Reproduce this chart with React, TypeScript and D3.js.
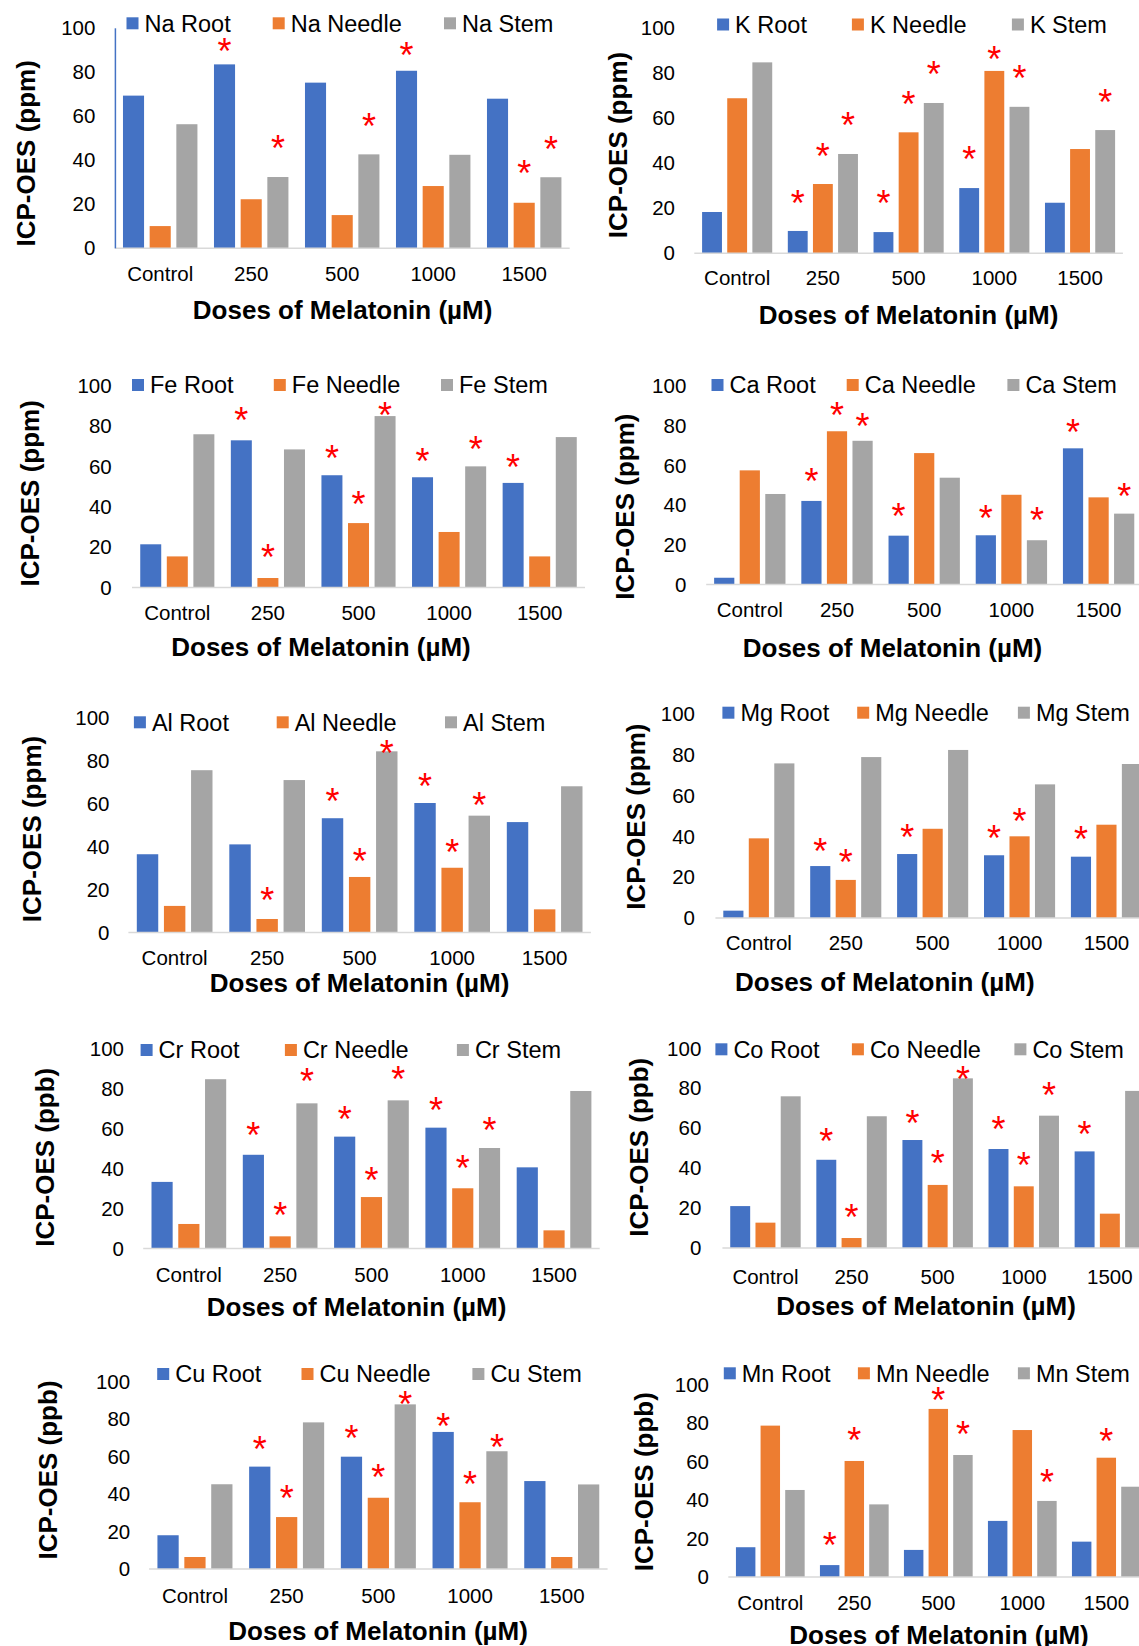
import React from "react";
import * as d3 from "d3";

const categories = ["Control", "250", "500", "1000", "1500"];
const parts = ["Root", "Needle", "Stem"];
const colors = ["#4472C4", "#ED7D31", "#A5A5A5"];
const yTicks = [0, 20, 40, 60, 80, 100];
const xTitle = "Doses of Melatonin (µM)";

// values: [Root, Needle, Stem] per dose
const naRoot = [69.4, 83.6, 75.3, 80.7, 68.0];
const naNeedle = [10.1, 22.3, 15.1, 28.3, 20.7];
const naStem = [56.4, 32.4, 42.7, 42.5, 32.3];
const kRoot = [18.3, 9.9, 9.4, 28.9, 22.4];
const kNeedle = [68.7, 30.7, 53.6, 80.8, 46.2];
const kStem = [84.6, 44.0, 66.6, 64.9, 54.6];
const feRoot = [21.4, 72.9, 55.6, 54.6, 51.8];
const feNeedle = [15.4, 4.7, 31.9, 27.5, 15.4];
const feStem = [75.9, 68.4, 84.9, 60.0, 74.5];
const caRoot = [3.4, 42.1, 24.6, 24.8, 68.6];
const caNeedle = [57.5, 77.2, 66.2, 45.2, 43.9];
const caStem = [45.6, 72.4, 53.8, 22.3, 35.7];
const alRoot = [36.5, 41.1, 53.3, 60.4, 51.5];
const alNeedle = [12.4, 6.3, 25.9, 30.2, 10.8];
const alStem = [75.7, 71.1, 84.5, 54.5, 68.2];
const mgRoot = [3.6, 25.5, 31.4, 30.8, 30.1];
const mgNeedle = [39.1, 18.7, 43.8, 40.1, 45.8];
const mgStem = [75.9, 79.0, 82.5, 65.6, 75.6];
const crRoot = [33.4, 47.0, 56.1, 60.6, 40.7];
const crNeedle = [12.3, 6.1, 25.8, 30.2, 9.1];
const crStem = [84.9, 72.8, 74.3, 50.4, 79.0];
const coRoot = [21.0, 44.2, 54.1, 49.6, 48.4];
const coNeedle = [12.7, 5.0, 31.6, 30.9, 17.2];
const coStem = [76.0, 66.0, 85.0, 66.3, 78.7];
const cuRoot = [18.0, 54.6, 59.9, 73.1, 46.9];
const cuNeedle = [6.4, 27.7, 38.0, 35.6, 6.4];
const cuStem = [45.2, 78.2, 87.8, 62.8, 45.1];
const mnRoot = [15.5, 6.2, 14.1, 29.2, 18.4];
const mnNeedle = [78.8, 60.4, 87.5, 76.5, 62.1];
const mnStem = [45.3, 37.8, 63.5, 39.6, 47.0];

// significance marks: [dose index, part index, height on value axis]
const naStars = [[1, 0, 93.2], [1, 2, 49.0], [2, 2, 59.2], [3, 0, 91.6], [4, 1, 37.6], [4, 2, 48.5]];
const kStars = [[1, 0, 25.8], [1, 1, 46.5], [1, 2, 60.5], [2, 0, 25.8], [2, 1, 69.8], [2, 2, 83.1], [3, 0, 45.3], [3, 1, 89.6], [3, 2, 81.2], [4, 2, 70.6]];
const feStars = [[1, 0, 87.1], [1, 1, 19.1], [2, 0, 67.8], [2, 1, 45.5], [2, 2, 89.1], [3, 0, 66.5], [3, 2, 72.6], [4, 0, 63.5]];
const caStars = [[1, 0, 56.0], [1, 1, 89.3], [1, 2, 83.7], [2, 0, 38.4], [3, 0, 37.5], [3, 2, 36.4], [4, 0, 80.9], [4, 2, 48.5]];
const alStars = [[1, 1, 19.0], [2, 0, 65.2], [2, 1, 37.2], [2, 2, 87.5], [3, 0, 71.9], [3, 1, 41.3], [3, 2, 63.1]];
const mgStars = [[1, 0, 36.7], [1, 1, 31.4], [2, 0, 43.5], [3, 0, 43.2], [3, 1, 51.4], [4, 0, 42.8]];
const crStars = [[1, 0, 61.1], [1, 1, 21.0], [1, 2, 87.9], [2, 0, 69.1], [2, 1, 38.2], [2, 2, 89.0], [3, 0, 73.6], [3, 1, 44.4], [3, 2, 63.6]];
const coStars = [[1, 0, 57.5], [1, 1, 19.4], [2, 0, 66.6], [2, 1, 46.6], [2, 2, 88.7], [3, 0, 63.6], [3, 1, 45.7], [3, 2, 80.5], [4, 0, 61.3]];
const cuStars = [[1, 0, 68.4], [1, 1, 42.1], [2, 0, 74.1], [2, 1, 53.2], [2, 2, 92.3], [3, 0, 80.7], [3, 1, 49.8], [3, 2, 69.3]];
const mnStars = [[1, 0, 21.0], [1, 1, 75.3], [2, 1, 96.5], [2, 2, 78.6], [3, 2, 53.5], [4, 1, 74.8]];

const panels = [
  { el: "Na", unit: "ppm", values: [naRoot, naNeedle, naStem], stars: naStars },
  { el: "K", unit: "ppm", values: [kRoot, kNeedle, kStem], stars: kStars },
  { el: "Fe", unit: "ppm", values: [feRoot, feNeedle, feStem], stars: feStars },
  { el: "Ca", unit: "ppm", values: [caRoot, caNeedle, caStem], stars: caStars },
  { el: "Al", unit: "ppm", values: [alRoot, alNeedle, alStem], stars: alStars },
  { el: "Mg", unit: "ppm", values: [mgRoot, mgNeedle, mgStem], stars: mgStars },
  { el: "Cr", unit: "ppb", values: [crRoot, crNeedle, crStem], stars: crStars },
  { el: "Co", unit: "ppb", values: [coRoot, coNeedle, coStem], stars: coStars },
  { el: "Cu", unit: "ppb", values: [cuRoot, cuNeedle, cuStem], stars: cuStars },
  { el: "Mn", unit: "ppb", values: [mnRoot, mnNeedle, mnStem], stars: mnStars },
];

// layout (pixel placement of each small chart)
const layouts = [
  { x0: 114.7, x1: 569.7, top: 28.3, bottom: 248.3, tickRight: 95.4, catY: 274, legY: 23.3, legX: [126.5, 272.7, 444], yt: [25.9, 153.3], xt: [342.6, 310], blueAxis: true },
  { x0: 694.3, x1: 1122.9, top: 27.6, bottom: 253.3, tickRight: 675, catY: 278.3, legY: 24.5, legX: [717.1, 851.9, 1011.9], yt: [618, 145], xt: [908.6, 315] },
  { x0: 132, x1: 585, top: 385.6, bottom: 587.5, tickRight: 111.7, catY: 613.3, legY: 385, legX: [132, 273.8, 441], yt: [29.6, 493.3], xt: [321, 646.7] },
  { x0: 706.2, x1: 1142.2, top: 386, bottom: 584.5, tickRight: 686.3, catY: 610, legY: 385, legX: [711.5, 846.7, 1007.4], yt: [625, 506.7], xt: [892.5, 647.7] },
  { x0: 128.4, x1: 590.9, top: 718.1, bottom: 932.5, tickRight: 109.5, catY: 958.3, legY: 722.3, legX: [133.9, 276.7, 445], yt: [31.4, 829], xt: [359.6, 983.3] },
  { x0: 715.4, x1: 1149.9, top: 714.3, bottom: 918, tickRight: 695, catY: 943.3, legY: 712.7, legX: [722.4, 857.2, 1017.9], yt: [635.5, 816.7], xt: [884.8, 981.7] },
  { x0: 143.2, x1: 599.7, top: 1049.1, bottom: 1248.5, tickRight: 124, catY: 1275, legY: 1050, legX: [140.6, 284.9, 456.9], yt: [44.4, 1157.3], xt: [356.6, 1306.7] },
  { x0: 722.4, x1: 1152.9, top: 1048.4, bottom: 1248, tickRight: 701.3, catY: 1276.7, legY: 1049.3, legX: [715.4, 851.9, 1014.4], yt: [639, 1147.3], xt: [926.1, 1306] },
  { x0: 149.1, x1: 607.6, top: 1381.5, bottom: 1569, tickRight: 130.2, catY: 1595.7, legY: 1374, legX: [157.2, 301.5, 472.4], yt: [48.1, 1470], xt: [378.1, 1631] },
  { x0: 728.3, x1: 1148.3, top: 1384.9, bottom: 1577, tickRight: 709, catY: 1603.3, legY: 1373.3, legX: [723.8, 857.9, 1017.9], yt: [644.3, 1481.7], xt: [939, 1635] },
];

const FONT = "'Liberation Sans', Arial, Helvetica, sans-serif";
const STAR_SIZE = 36;

function Panel({ p, L }) {
  const x = d3.scaleBand().domain(categories).range([L.x0, L.x1]);
  const xs = d3.scaleBand().domain(parts).range([0, x.bandwidth()]).paddingInner(0.21).paddingOuter(0.31);
  const y = d3.scaleLinear().domain([0, 100]).range([L.bottom, L.top]);
  return (
    <g>
      {p.values.map((vals, si) =>
        vals.map((v, ci) => (
          <rect
            key={`b${si}-${ci}`}
            x={x(categories[ci]) + xs(parts[si])}
            y={y(v)}
            width={xs.bandwidth()}
            height={y(0) - y(v)}
            fill={colors[si]}
          />
        ))
      )}
      <line x1={L.x0} x2={L.x1} y1={y(0)} y2={y(0)} stroke="#D9D9D9" strokeWidth={1.5} />
      {L.blueAxis && <line x1={L.x0 + 0.7} x2={L.x0 + 0.7} y1={y(0)} y2={y(100)} stroke="#4472C4" strokeWidth={1.5} />}
      {yTicks.map((t) => (
        <text key={`t${t}`} x={L.tickRight} y={y(t)} dy="0.35em" textAnchor="end" fontSize={20.5} fontFamily={FONT} fill="#000">
          {t}
        </text>
      ))}
      {categories.map((c) => (
        <text key={`c${c}`} x={x(c) + x.bandwidth() / 2} y={L.catY} dy="0.35em" textAnchor="middle" fontSize={20.5} fontFamily={FONT} fill="#000">
          {c}
        </text>
      ))}
      {parts.map((pt, i) => (
        <g key={`l${pt}`}>
          <rect x={L.legX[i]} y={L.legY - 6} width={12} height={12} fill={colors[i]} />
          <text x={L.legX[i] + 18} y={L.legY} dy="0.35em" fontSize={23.5} fontFamily={FONT} fill="#000">
            {`${p.el} ${pt}`}
          </text>
        </g>
      ))}
      {p.stars.map(([ci, si, h], k) => (
        <text
          key={`s${k}`}
          x={x(categories[ci]) + xs(parts[si]) + xs.bandwidth() / 2}
          y={y(h) + STAR_SIZE * 0.58}
          textAnchor="middle"
          fontSize={STAR_SIZE}
          fontFamily={FONT}
          fill="#FF0000"
        >
          *
        </text>
      ))}
      <text
        transform={`translate(${L.yt[0]},${L.yt[1]}) rotate(-90)`}
        textAnchor="middle"
        dy="0.35em"
        fontSize={26}
        fontWeight="bold"
        fontFamily={FONT}
        fill="#000"
      >
        {`ICP-OES (${p.unit})`}
      </text>
      <text x={L.xt[0]} y={L.xt[1]} dy="0.35em" textAnchor="middle" fontSize={26} fontWeight="bold" fontFamily={FONT} fill="#000">
        {xTitle}
      </text>
    </g>
  );
}

export default function App() {
  return (
    <svg width={1139} height={1646} style={{ position: "absolute", left: 0, top: 0, display: "block" }}>
      <rect x={0} y={0} width={1139} height={1646} fill="#fff" />
      {panels.map((p, i) => (
        <Panel key={p.el} p={p} L={layouts[i]} />
      ))}
    </svg>
  );
}
